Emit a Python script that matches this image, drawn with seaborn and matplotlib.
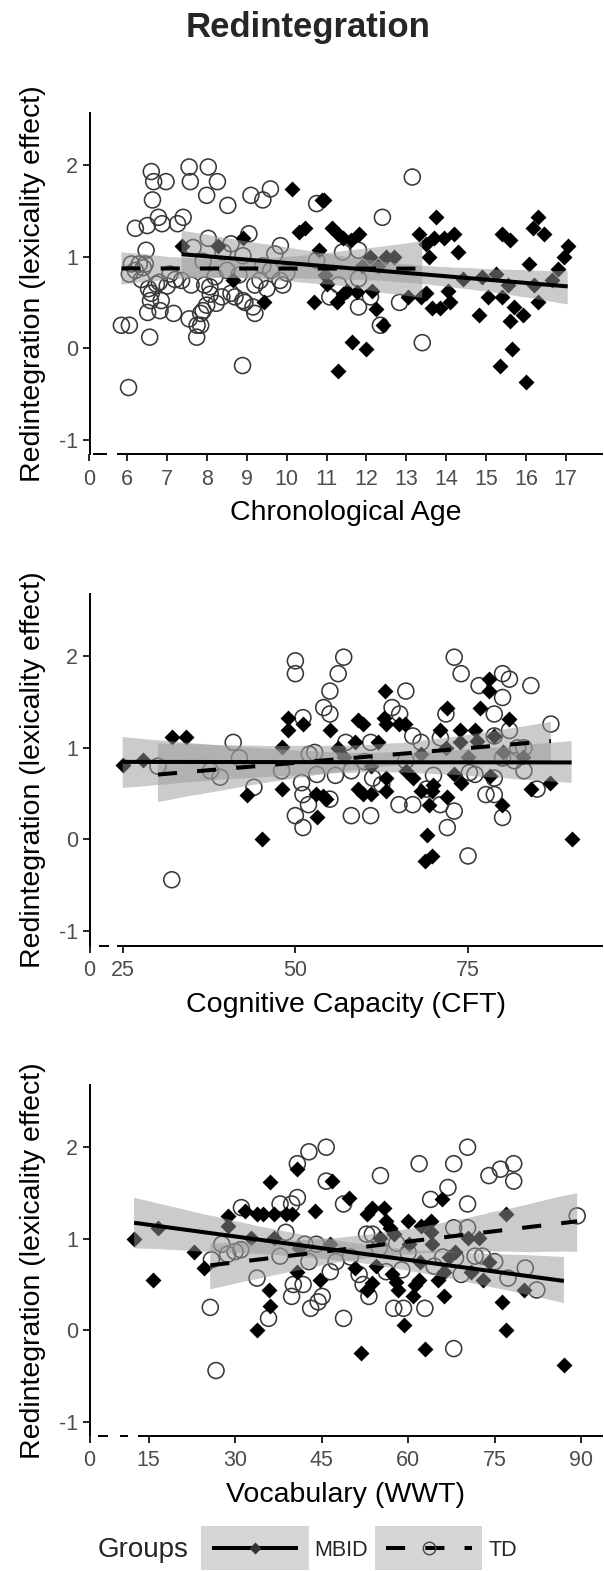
import numpy as np
import pandas as pd
import matplotlib
matplotlib.use("Agg")
import matplotlib.pyplot as plt
import seaborn as sns
from matplotlib.lines import Line2D
from matplotlib.patches import Patch, Rectangle
from matplotlib.legend_handler import HandlerTuple, HandlerPatch, HandlerLine2D

sns.set_theme(style="ticks")
plt.rcParams["font.family"] = ["Liberation Sans", "DejaVu Sans"]
plt.rcParams["axes.unicode_minus"] = False

# ---------------- data ----------------
# Panel 1: Chronological Age
age_td_x = [5.85, 6.05, 6.03, 6.05, 6.2, 6.1, 6.3, 6.45, 6.2, 6.4, 6.5, 6.6, 6.66, 6.63, 6.97, 6.47,
            6.53, 6.58, 6.51, 6.56, 6.78, 6.87, 6.73, 6.85, 6.82, 7.16, 7.26, 7.4, 7.36, 7.07, 7.55,
            7.58, 8.03, 8.26, 7.99, 8.52, 7.55, 7.75, 7.84, 7.74, 7.84, 7.99, 8.08, 8.03, 7.65, 7.6,
            7.94, 8.37, 8.23, 8.7, 8.6, 8.89, 9.1, 9.4, 9.59, 9.05, 8.9, 8.95, 9.2, 9.2, 9.5, 9.7,
            9.84, 9.9, 10.75, 10.75, 11.08, 11.3, 11.4, 11.8, 11.8, 11.8, 12.1, 12.4, 12.35, 12.83,
            13.15, 13.4, 6.8, 7.0, 7.2, 6.35, 6.6, 8.2, 8.5, 8.8, 9.4, 7.9, 8.4, 9.6, 10.0, 8.6,
            7.9, 8.9, 9.15, 9.33, 9.83, 8.07]
age_td_y = [0.25, 0.25, -0.43, 0.81, 1.31, 0.92, 0.92, 0.92, 0.85, 0.88, 1.34, 1.93, 1.82, 1.62, 1.82, 1.07,
            0.65, 0.52, 0.39, 0.12, 1.43, 1.36, 0.70, 0.52, 0.41, 0.38, 1.36, 1.43, 0.74, 0.81, 1.98,
            1.82, 1.98, 1.82, 1.67, 1.56, 0.32, 0.25, 0.25, 0.12, 0.38, 0.47, 0.59, 1.20, 1.10, 0.69,
            0.69, 0.56, 0.49, 0.56, 1.14, -0.19, 1.67, 1.62, 1.74, 1.25, 1.01, 0.50, 0.38, 0.69, 0.65, 1.03,
            1.12, 0.69, 1.58, 0.96, 0.56, 0.69, 1.05, 0.76, 1.07, 0.45, 0.56, 1.43, 0.25, 0.50,
            1.87, 0.06, 0.72, 0.68, 0.75, 0.75, 0.60, 0.78, 0.85, 0.80, 0.90, 0.95, 1.05, 0.85, 0.82, 0.60,
            0.41, 0.52, 0.45, 0.74, 0.74, 0.67]
age_mb_x = [7.36, 8.28, 8.9, 8.66, 9.44, 10.12, 10.3, 10.45, 10.8, 10.88, 10.93, 10.68, 10.95, 11.13,
            11.28, 11.25, 11.4, 11.28, 11.4, 11.6, 11.64, 11.75, 11.8, 12.0, 12.1, 12.15, 12.25, 12.42,
            12.5, 12.7, 13.03, 13.32, 13.37, 13.56, 13.5, 13.75, 13.7, 13.94, 13.65, 13.85, 14.2, 14.3,
            14.05, 14.1, 14.43, 14.82, 14.9, 15.05, 15.25, 15.4, 15.6, 15.35, 15.4, 15.6, 15.65, 15.7,
            15.93, 15.55, 16.08, 16.18, 16.3, 16.2, 16.3, 16.0, 16.45, 16.8, 16.95, 17.05, 16.66,
            11.0, 11.5, 12.3, 13.5, 11.9]
age_mb_y = [1.12, 1.12, 1.20, 0.74, 0.50, 1.74, 1.27, 1.31, 1.07, 1.62, 1.62, 0.50, 0.80, 1.31,
            1.25, 0.50, 0.59, -0.25, 1.20, 1.18, 0.07, 0.61, 1.25, -0.01, 1.00, 0.63, 0.43, 0.25,
            1.00, 1.00, 0.56, 1.25, 0.56, 1.00, 1.14, 1.43, 1.20, 1.20, 0.44, 0.44, 1.25, 1.05,
            0.63, 0.50, 0.76, 0.36, 0.78, 0.56, 0.81, 1.25, 1.18, -0.19, 0.56, 0.30, -0.01, 0.45,
            0.36, 0.69, 0.92, 1.31, 1.43, 0.69, 0.50, -0.37, 1.25, 0.87, 1.00, 1.12, 0.74,
            0.70, 0.62, 0.90, 0.60, 0.90]

# Panel 2: Cognitive Capacity (CFT)
cft_td_x = [30.1, 32.1, 37.7, 39.1, 41.0, 41.9, 44.0, 48.0, 50.0, 50.0, 50.0, 51.1, 51.1, 50.9, 51.1,
            51.9, 52.8, 52.0, 53.1, 54.1, 55.0, 55.0, 55.0, 56.2, 57.0, 57.3, 58.1, 58.1, 60.9, 60.9,
            61.2, 64.0, 65.1, 66.0, 65.0, 67.0, 67.0, 68.2, 66.0, 71.0, 71.8, 71.0, 72.0, 73.0, 73.0,
            74.0, 75.0, 75.2, 76.6, 76.0, 77.6, 78.8, 78.8, 78.8, 80.0, 81.0, 80.0, 80.0, 80.0, 81.7,
            81.0, 82.2, 83.1, 84.1, 83.1, 85.0, 87.0, 78.8, 60.0, 70.0, 62.5, 55.8, 69.0]
cft_td_y = [0.80, -0.44, 0.75, 0.68, 1.06, 0.89, 0.57, 0.75, 1.95, 1.81, 0.26, 1.33, 0.13, 0.62, 0.49,
            0.38, 0.95, 0.93, 0.71, 1.44, 1.62, 1.37, 0.44, 1.81, 1.99, 1.06, 0.75, 0.26, 0.26, 1.06,
            0.67, 1.44, 1.37, 1.62, 0.38, 0.38, 1.13, 1.06, 0.86, 1.11, 1.37, 0.38, 0.13, 0.31, 1.99,
            1.81, -0.18, 0.73, 1.68, 0.71, 0.49, 1.37, 1.13, 0.49, 1.81, 1.75, 1.55, 0.24, 0.89, 0.86,
            1.19, 1.00, 1.00, 1.68, 0.75, 0.55, 1.26, 0.67, 0.85, 0.70, 0.60, 0.70, 0.55]
cft_mb_x = [25.0, 28.0, 32.1, 34.1, 43.0, 45.1, 48.0, 48.0, 48.9, 48.9, 51.1, 53.1, 53.0, 54.0, 54.4,
            55.0, 56.2, 59.0, 59.8, 58.7, 59.0, 59.8, 60.9, 62.0, 63.0, 62.9, 63.1, 63.1, 63.1, 65.0,
            65.9, 67.0, 68.2, 68.2, 69.0, 68.7, 69.8, 69.3, 69.8, 71.0, 72.0, 71.8, 72.0, 73.0, 73.8,
            73.8, 74.0, 76.0, 76.3, 76.8, 78.0, 78.0, 78.2, 78.8, 79.9, 81.0, 84.1, 86.9, 90.0,
            57.0, 61.0, 66.0, 70.0, 75.0, 80.0, 83.0]
cft_mb_y = [0.81, 0.87, 1.12, 1.12, 0.49, 0.00, 1.01, 0.55, 1.33, 1.19, 1.26, 0.24, 0.50, 0.47, 0.44,
            1.19, 1.00, 1.30, 1.26, 1.06, 0.55, 0.50, 0.50, 1.06, 1.62, 1.33, 1.26, 0.67, 0.53, 1.26,
            1.26, 0.67, 0.93, 0.53, 0.05, -0.24, -0.18, 0.38, 0.53, 1.19, 1.44, 1.00, 0.46, 0.71, 1.20,
            1.06, 0.62, 1.19, 1.08, 1.44, 1.75, 1.62, 0.69, 1.13, 0.38, 1.31, 0.55, 0.62, 0.00,
            0.90, 0.80, 0.75, 0.60, 0.90, 0.95, 0.90]

# Panel 3: Vocabulary (WWT)
wwt_td_x = [26.7, 25.7, 25.9, 27.7, 28.7, 30.0, 31.0, 31.1, 33.8, 35.8, 37.8, 37.8, 38.8, 39.8, 40.1,
            41.8, 39.8, 40.8, 40.8, 42.8, 42.1, 42.8, 43.1, 44.4, 45.1, 44.1, 45.8, 45.8, 46.5, 47.5,
            48.8, 48.8, 51.5, 52.2, 53.2, 52.8, 53.8, 55.2, 56.2, 57.5, 59.2, 58.9, 61.9, 62.9, 63.9,
            66.9, 67.9, 67.9, 70.3, 70.3, 70.3, 67.9, 68.2, 69.2, 71.6, 72.9, 74.0, 76.0, 78.3, 78.3,
            77.3, 80.3, 82.3, 89.3, 50.0, 55.0, 60.0, 64.5, 66.0, 75.0, 58.0]
wwt_td_y = [-0.44, 0.25, 0.77, 0.94, 0.83, 0.86, 0.88, 1.34, 0.57, 0.13, 1.38, 0.81, 1.07, 0.37, 0.50,
            0.50, 1.38, 1.45, 1.82, 1.95, 0.94, 0.75, 0.24, 0.31, 0.37, 0.94, 2.00, 1.63, 0.64, 0.75,
            1.38, 0.13, 0.61, 0.50, 0.37, 1.05, 1.05, 1.69, 0.64, 0.24, 0.24, 0.66, 1.82, 0.24, 1.43,
            1.56, 1.82, 1.12, 1.12, 1.38, 2.00, -0.20, 0.79, 0.61, 0.81, 0.81, 1.69, 1.76, 1.82, 1.63,
            0.57, 0.68, 0.44, 1.25, 0.80, 0.90, 0.85, 0.70, 0.80, 0.75, 0.95]
wwt_mb_x = [12.5, 15.7, 16.7, 22.9, 24.7, 28.7, 28.7, 31.7, 32.7, 33.8, 34.8, 36.8, 38.8, 39.8, 33.8,
            35.8, 36.1, 36.0, 36.8, 40.8, 40.8, 43.8, 44.8, 46.5, 46.8, 49.8, 50.8, 51.8, 52.8, 53.8,
            52.8, 53.8, 55.2, 55.9, 56.2, 56.9, 57.5, 57.2, 57.9, 58.2, 59.2, 59.9, 60.2, 60.9, 61.2,
            61.9, 62.2, 62.9, 63.9, 63.9, 64.2, 65.2, 65.9, 66.2, 66.2, 68.2, 70.3, 72.3, 70.9, 73.0,
            74.0, 76.3, 77.0, 77.0, 80.0, 87.0, 41.0, 54.5, 62.0, 67.0]
wwt_mb_y = [1.00, 0.55, 1.12, 0.86, 0.68, 1.25, 1.14, 1.30, 1.01, 1.27, 1.27, 1.27, 1.27, 1.27, 0.00,
            0.44, 0.26, 1.62, 1.01, 1.76, 0.64, 1.30, 0.55, 0.94, 1.63, 1.45, 0.68, -0.25, 1.27, 1.34,
            0.44, 0.52, 1.01, 1.34, 1.19, 1.12, 1.05, 0.61, 0.53, 0.44, 0.06, 1.19, 0.94, 0.37, 0.50,
            0.55, 1.14, -0.20, 1.19, 1.07, 0.94, 0.55, 1.43, 0.37, 0.64, 0.85, 1.01, 1.01, 0.64, 0.55,
            0.75, 0.31, 1.27, 0.00, 0.44, -0.38, 0.90, 0.70, 0.75, 0.80]

x_labels = ["Chronological Age", "Cognitive Capacity (CFT)", "Vocabulary (WWT)"]
x_ticks = [[0, 6, 7, 8, 9, 10, 11, 12, 13, 14, 15, 16, 17],
           [0, 25, 50, 75],
           [0, 15, 30, 45, 60, 75, 90]]
y_ticks = [-1, 0, 1, 2]
groups = ["MBID", "TD"]
y_label = "Redintegration (lexicality effect)"
title = "Redintegration"

# ---------------- layout ----------------
W_PX, H_PX = 604, 1571
fig = plt.figure(figsize=(W_PX / 100, H_PX / 100), dpi=100)

LEFT_PX, RIGHT_PX = 89.5, 602
panels = [
    dict(td=(age_td_x, age_td_y), mb=(age_mb_x, age_mb_y), top=113, bot=454.3,
         ylim=(-1.16, 2.57), a=5.05, b=5.5, xmax=17.91, line_start=5.77,
         dashes=[(93, 107)]),
    dict(td=(cft_td_x, cft_td_y), mb=(cft_mb_x, cft_mb_y), top=594, bot=945.7,
         ylim=(-1.16, 2.68), a=20.19, b=23.0, xmax=94.4, line_start=24.26,
         dashes=[(98.5, 109)]),
    dict(td=(wwt_td_x, wwt_td_y), mb=(wwt_mb_x, wwt_mb_y), top=1085, bot=1435.5,
         ylim=(-1.15, 2.68), a=4.77, b=10.0, xmax=93.6, line_start=13.4,
         dashes=[(98, 108), (120, 128)]),
]


def make_scale(a, b):
    def fwd(x):
        x = np.asarray(x, dtype=float)
        return np.where(x >= b, x, a + x * (b - a) / b)

    def inv(y):
        y = np.asarray(y, dtype=float)
        return np.where(y >= b, y, (y - a) * b / (b - a))
    return fwd, inv


RIBBON = "#999999"
LINE_W = 2.9
TD_DASH = (0, (4.75, 5.0))
axw_px = RIGHT_PX - LEFT_PX

for i, p in enumerate(panels):
    ax = fig.add_axes([LEFT_PX / W_PX, 1 - p["bot"] / H_PX,
                       axw_px / W_PX, (p["bot"] - p["top"]) / H_PX])
    ax.set_xscale("function", functions=make_scale(p["a"], p["b"]))

    tdx, tdy = p["td"]
    mbx, mby = p["mb"]

    # points
    sns.scatterplot(x=tdx, y=tdy, marker="o", s=132, facecolors="none",
                    edgecolor="#383838", linewidth=1.15, ax=ax, zorder=2)
    sns.scatterplot(x=mbx, y=mby, marker="D", s=66, color="black",
                    edgecolor="black", linewidth=0, ax=ax, zorder=2)

    # regression lines with CI ribbons
    for xs, ys, ls in [(mbx, mby, "-"), (tdx, tdy, TD_DASH)]:
        nc, nl = len(ax.collections), len(ax.lines)
        sns.regplot(x=xs, y=ys, scatter=False, ci=95, n_boot=1000, seed=3,
                    color="black", truncate=True, ax=ax,
                    line_kws=dict(lw=LINE_W, linestyle=ls, dash_capstyle="butt",
                                  solid_capstyle="butt"))
        for c in ax.collections[nc:]:
            c.set_facecolor(RIBBON)
            c.set_alpha(0.5)
            c.set_edgecolor("none")
            c.set_zorder(3)
        for ln in ax.lines[nl:]:
            ln.set_zorder(4)

    ax.set_xlim(0, p["xmax"])
    ax.set_ylim(*p["ylim"])
    ax.set_xticks(x_ticks[i], labels=[str(t) for t in x_ticks[i]])
    ax.set_yticks(y_ticks, labels=[str(t) for t in y_ticks])
    ax.minorticks_off()

    for s in ["top", "right"]:
        ax.spines[s].set_visible(False)
    for s in ["left", "bottom"]:
        ax.spines[s].set_linewidth(1.4)
        ax.spines[s].set_color("black")
    ax.spines["bottom"].set_bounds(p["line_start"], p["xmax"])

    # short broken-axis dashes at the left of the x axis
    for d0, d1 in p["dashes"]:
        ax.plot([(d0 - LEFT_PX) / axw_px, (d1 - LEFT_PX) / axw_px], [0, 0],
                transform=ax.transAxes, color="black", lw=1.4, clip_on=False,
                solid_capstyle="butt")

    ax.tick_params(axis="both", direction="out", length=4.8, width=1.2,
                   color="black", labelsize=15.5, labelcolor="#4D4D4D",
                   bottom=True, left=True)
    ax.tick_params(axis="x", pad=5.5)
    ax.tick_params(axis="y", pad=3.5)

    ax.set_ylabel(y_label, fontsize=20.5, color="black")
    ax.yaxis.set_label_coords((46 - LEFT_PX) / axw_px, 0.5)
    ax.set_xlabel(x_labels[i], fontsize=20.5, color="black")
    hpx = p["bot"] - p["top"]
    ax.xaxis.set_label_coords(0.5, -46 / hpx)

fig.text(308 / W_PX, 1 - 27 / H_PX, title, ha="center", va="center",
         fontsize=25, fontweight="bold")

# legend
LEG_Y = 1550
fig.text(143 / W_PX, 1 - LEG_Y / H_PX, "Groups", ha="center", va="center",
         fontsize=20)


def tall_rect(legend, orig_handle, xdescent, ydescent, width, height, fontsize):
    box_h = 2.05 * fontsize
    return Rectangle((-xdescent, -ydescent + height / 2 - box_h / 2), width, box_h)


class InsetLine(HandlerLine2D):
    def get_xdata(self, legend, xdescent, ydescent, width, height, fontsize):
        inset = 0.1 * width
        return ([-xdescent + inset, -xdescent + width - inset],
                [-xdescent + 0.5 * width])


h_mb = (Patch(facecolor="#D6D6D6", edgecolor="none"),
        Line2D([], [], color="black", lw=LINE_W, marker="D", markersize=6.5,
               markerfacecolor="#333333", markeredgecolor="none",
               solid_capstyle="butt"))
h_td = (Patch(facecolor="#D6D6D6", edgecolor="none"),
        Line2D([], [], color="black", lw=LINE_W, linestyle=TD_DASH, marker="o",
               markersize=9, markerfacecolor="none", markeredgecolor="#444444",
               dash_capstyle="butt"))
fig.legend([h_mb, h_td], groups, loc="center left",
           bbox_to_anchor=(201 / W_PX, 1 - LEG_Y / H_PX), ncol=2, frameon=False,
           fontsize=15.5, handlelength=5.0, handleheight=0.7, handletextpad=0.28,
           columnspacing=0.3, borderpad=0, borderaxespad=0,
           handler_map={tuple: HandlerTuple(ndivide=1, pad=0),
                        Patch: HandlerPatch(patch_func=tall_rect),
                        Line2D: InsetLine()})

fig.savefig("out.png", dpi=100)
